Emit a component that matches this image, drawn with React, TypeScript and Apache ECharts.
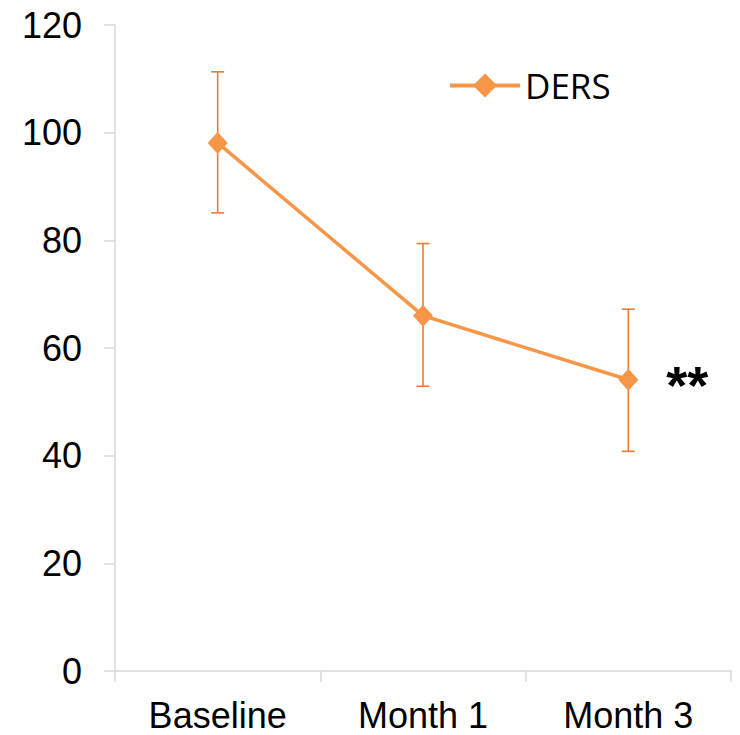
import React, { useEffect, useRef } from "react";
import * as echarts from "echarts";

const categories = ["Baseline", "Month 1", "Month 3"];
const dersMean = [98.1, 66.0, 54.1];
const dersLower = [85.1, 52.9, 40.8];
const dersUpper = [111.3, 79.4, 67.2];
const yTicks = { min: 0, max: 120, interval: 20 };
const significance = ["", "", "**"];

const LINE_COLOR = "#F79646";
const ERR_COLOR = "#EC7B30";
const AXIS_COLOR = "#D9D9D9";
const FONT = "Liberation Sans, Arial, sans-serif";

export default function App() {
  const ref = useRef<HTMLDivElement>(null);
  useEffect(() => {
    document.body.style.margin = "0";
    if (!ref.current) return;
    const chart = echarts.init(ref.current, null, { renderer: "svg" });
    const option: any = {
      animation: false,
      backgroundColor: "#ffffff",
      grid: { left: 115, right: 9, top: 25, bottom: 64, containLabel: false },
      legend: {
        show: true,
        left: 443,
        top: 63,
        itemWidth: 70,
        itemHeight: 30,
        itemGap: 10,
        lineStyle: { width: 4 },
        textStyle: { fontFamily: "Open Sans, sans-serif", fontSize: 35, color: "#000" },
        data: [{ name: "DERS" }],
      },
      xAxis: {
        type: "category",
        data: categories,
        boundaryGap: true,
        axisLine: { show: true, lineStyle: { color: AXIS_COLOR, width: 1.5 } },
        axisTick: { show: true, length: 11, lineStyle: { color: AXIS_COLOR, width: 1.5 } },
        axisLabel: { fontFamily: FONT, fontSize: 36, lineHeight: 30, color: "#000", margin: 29 },
        splitLine: { show: false },
      },
      yAxis: {
        type: "value",
        min: yTicks.min,
        max: yTicks.max,
        interval: yTicks.interval,
        axisLine: { show: true, lineStyle: { color: AXIS_COLOR, width: 1.5 } },
        axisTick: { show: true, length: 11, lineStyle: { color: AXIS_COLOR, width: 1.5 } },
        axisLabel: { fontFamily: FONT, fontSize: 36, color: "#000", margin: 33 },
        splitLine: { show: false },
      },
      series: [
        {
          type: "custom",
          name: "err",
          z: 1,
          data: categories.map((_, i) => [i, dersLower[i], dersUpper[i]]),
          encode: { x: 0, y: [1, 2] },
          renderItem: (params: any, api: any) => {
            const x = api.value(0);
            const top = api.coord([x, api.value(2)]);
            const bot = api.coord([x, api.value(1)]);
            const hw = 6.5;
            const style = { stroke: ERR_COLOR, lineWidth: 1.6 };
            return {
              type: "group",
              children: [
                { type: "line", shape: { x1: top[0], y1: top[1], x2: bot[0], y2: bot[1] }, style },
                { type: "line", shape: { x1: top[0] - hw, y1: top[1], x2: top[0] + hw, y2: top[1] }, style },
                { type: "line", shape: { x1: bot[0] - hw, y1: bot[1], x2: bot[0] + hw, y2: bot[1] }, style },
              ],
            };
          },
        },
        {
          type: "line",
          name: "DERS",
          z: 3,
          data: dersMean.map((v, i) => ({
            value: v,
            label: significance[i]
              ? {
                  show: true,
                  position: "right",
                  distance: 28,
                  formatter: significance[i],
                  fontFamily: FONT,
                  fontWeight: "bold",
                  fontSize: 54,
                  color: "#000",
                  offset: [0, 5],
                }
              : { show: false },
          })),
          symbol: "diamond",
          symbolSize: [20, 22],
          itemStyle: { color: LINE_COLOR },
          lineStyle: { color: LINE_COLOR, width: 3.5 },
        },
      ],
    };
    chart.setOption(option);
    return () => chart.dispose();
  }, []);
  return <div ref={ref} style={{ width: 740, height: 735 }} />;
}
